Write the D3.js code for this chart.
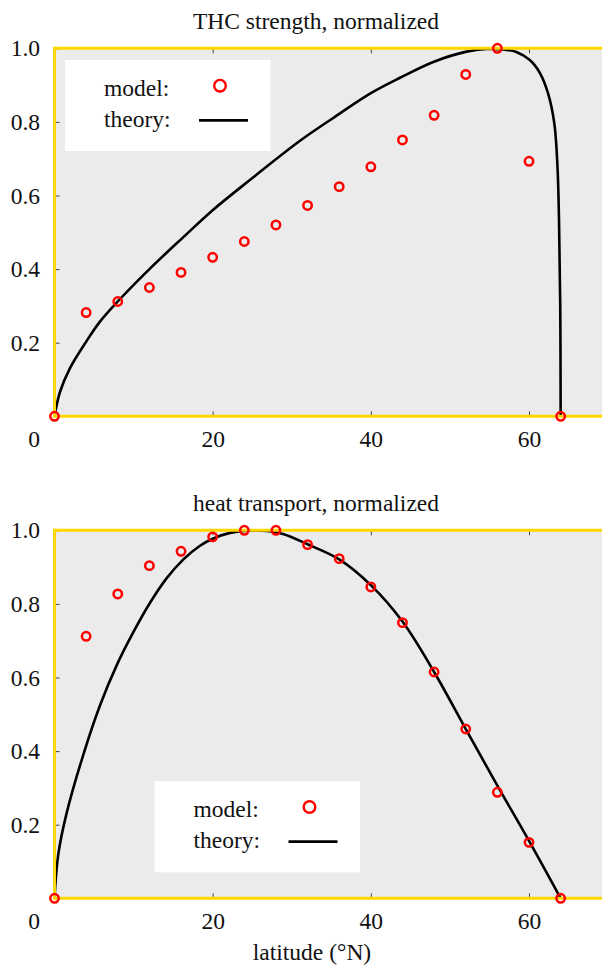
<!DOCTYPE html>
<html>
<head>
<meta charset="utf-8">
<script src="https://cdn.jsdelivr.net/npm/d3@7"></script>
<style>
body { margin: 0; background: #fff; }
svg text { font-family: "Liberation Serif", Tinos, "Times New Roman", "DejaVu Serif", serif; fill: #111; }
</style>
</head>
<body>
<script>
// model points, both panels share the latitudes
var modelLat = [0, 4, 8, 12, 16, 20, 24, 28, 32, 36, 40, 44, 48, 52, 56, 60, 64];
var thcModel = [0, 0.282, 0.312, 0.35, 0.391, 0.432, 0.475, 0.52, 0.573, 0.624, 0.678, 0.751, 0.818, 0.929, 1.0, 0.693, 0];
var heatModel = [0, 0.712, 0.827, 0.904, 0.943, 0.982, 1.0, 1.0, 0.961, 0.923, 0.846, 0.749, 0.615, 0.46, 0.288, 0.152, 0];

// theory curves
var thcTheoryLat = [0, 0.69, 1.96, 4.07, 5.7, 8, 12.1, 16.3, 20, 24.7, 31, 35.2, 40, 43.7, 47.9, 52.1, 54.6, 56.7, 58.4, 60.1, 61.4, 62.4, 63.2, 63.6, 63.8, 63.95, 64];
var thcTheoryVal = [0, 0.066, 0.131, 0.205, 0.256, 0.312, 0.402, 0.487, 0.56, 0.642, 0.748, 0.81, 0.878, 0.92, 0.963, 0.991, 0.998, 0.997, 0.99, 0.968, 0.932, 0.878, 0.796, 0.678, 0.525, 0.298, 0];
var heatTheoryLat = [0, 0.48, 1.54, 3.64, 5.75, 7.86, 9.97, 12.08, 14.19, 16.3, 18.4, 20, 22.2, 24.7, 26.8, 28.9, 32, 36, 40, 44, 48, 52, 56, 60, 64];
var heatTheoryVal = [0, 0.12, 0.232, 0.39, 0.524, 0.633, 0.723, 0.803, 0.87, 0.921, 0.958, 0.977, 0.993, 0.999, 0.998, 0.99, 0.962, 0.921, 0.851, 0.752, 0.615, 0.46, 0.306, 0.156, 0];

var xTicks = [0, 20, 40, 60];
var yTicks = [0.2, 0.4, 0.6, 0.8, 1.0];

var W = 602, H = 965;
var left = 54.5, plotH = 368;
var gold = "#FFD700", red = "#ff0000";
var font = '"Liberation Serif", Tinos, "Times New Roman", "DejaVu Serif", serif';
var fs = "23.5px";

var svg = d3.select("body").append("svg")
	.attr("width", W)
	.attr("height", H);

var x = d3.scaleLinear().domain([0, 70]).range([0, 553.6]);

function panel(top, title, modelVals, thLat, thVal, legendPos) {
	var y = d3.scaleLinear().domain([0, 1]).range([plotH, 0]);
	var g = svg.append("g").attr("transform", "translate(" + left + "," + top + ")");

	g.append("rect")
		.attr("width", W - left)
		.attr("height", plotH)
		.attr("fill", "#ebebeb");

	// ticks (inward)
	var ya = g.append("g")
		.call(d3.axisLeft(y).tickValues(yTicks).tickSize(-5).tickPadding(14.5).tickFormat(d3.format(".1f")));
	var xa = g.append("g")
		.attr("transform", "translate(0," + plotH + ")")
		.call(d3.axisBottom(x).tickValues(xTicks).tickSize(-5).tickPadding(13.7));
	var xt = g.append("g")
		.call(d3.axisTop(x).tickValues(xTicks.slice(1)).tickSize(-5).tickFormat(""));
	[ya, xa, xt].forEach(function(a) {
		a.attr("font-family", null).attr("font-size", null);
		a.select(".domain").remove();
		a.selectAll("line").attr("stroke", "#444");
		a.selectAll("text").style("font-size", fs).style("font-family", font).attr("fill", "#111");
	});
	xa.selectAll(".tick").filter(function(d) { return d === 0; }).select("text").attr("dx", -21);

	// theory line
	var pts = thLat.map(function(d, i) { return [d, thVal[i]]; });
	g.append("path")
		.datum(pts)
		.attr("fill", "none")
		.attr("stroke", "#000")
		.attr("stroke-width", 2.6)
		.attr("d", d3.line()
			.x(function(d) { return x(d[0]); })
			.y(function(d) { return y(d[1]); })
			.curve(d3.curveCatmullRom.alpha(0.5)));

	// yellow frame
	g.append("line").attr("x1", 0).attr("x2", W).attr("y1", 0).attr("y2", 0)
		.attr("stroke", gold).attr("stroke-width", 3);
	g.append("line").attr("x1", 0).attr("x2", W).attr("y1", plotH).attr("y2", plotH)
		.attr("stroke", gold).attr("stroke-width", 3);
	g.append("line").attr("x1", 0).attr("x2", 0).attr("y1", -1.5).attr("y2", plotH + 1.5)
		.attr("stroke", gold).attr("stroke-width", 3);

	// model circles
	g.selectAll("circle.model")
		.data(modelLat)
		.enter().append("circle")
		.attr("class", "model")
		.attr("cx", function(d) { return x(d); })
		.attr("cy", function(d, i) { return y(modelVals[i]); })
		.attr("r", 4.2)
		.attr("fill", "none")
		.attr("stroke", red)
		.attr("stroke-width", 2.5);

	// legend
	var lg = g.append("g").attr("transform", "translate(" + legendPos[0] + "," + legendPos[1] + ")");
	lg.append("rect").attr("width", 205.5).attr("height", 91).attr("fill", "#fff");
	lg.append("text").attr("x", 39).attr("y", 36).style("font-size", fs).style("font-family", font).text("model:");
	lg.append("text").attr("x", 39).attr("y", 66.5).style("font-size", fs).style("font-family", font).text("theory:");
	lg.append("circle").attr("cx", 155).attr("cy", 25.7).attr("r", 5.8)
		.attr("fill", "none").attr("stroke", red).attr("stroke-width", 2.4);
	lg.append("line").attr("x1", 134).attr("x2", 183).attr("y1", 60.3).attr("y2", 60.3)
		.attr("stroke", "#000").attr("stroke-width", 2.8);

	// TITLE
	svg.append("text")
		.attr("x", 316)
		.attr("y", top - 19.5)
		.attr("text-anchor", "middle")
		.style("font-size", fs)
		.style("font-family", font)
		.text(title);
}

panel(48.3, "THC strength, normalized", thcModel, thcTheoryLat, thcTheoryVal, [10.5, 11.7]);
panel(530.3, "heat transport, normalized", heatModel, heatTheoryLat, heatTheoryVal, [100, 251]);

// AXIS LABEL
svg.append("text")
	.attr("x", 312)
	.attr("y", 960)
	.attr("text-anchor", "middle")
	.style("font-size", fs)
	.style("font-family", font)
	.text("latitude (°N)");
</script>
</body>
</html>
